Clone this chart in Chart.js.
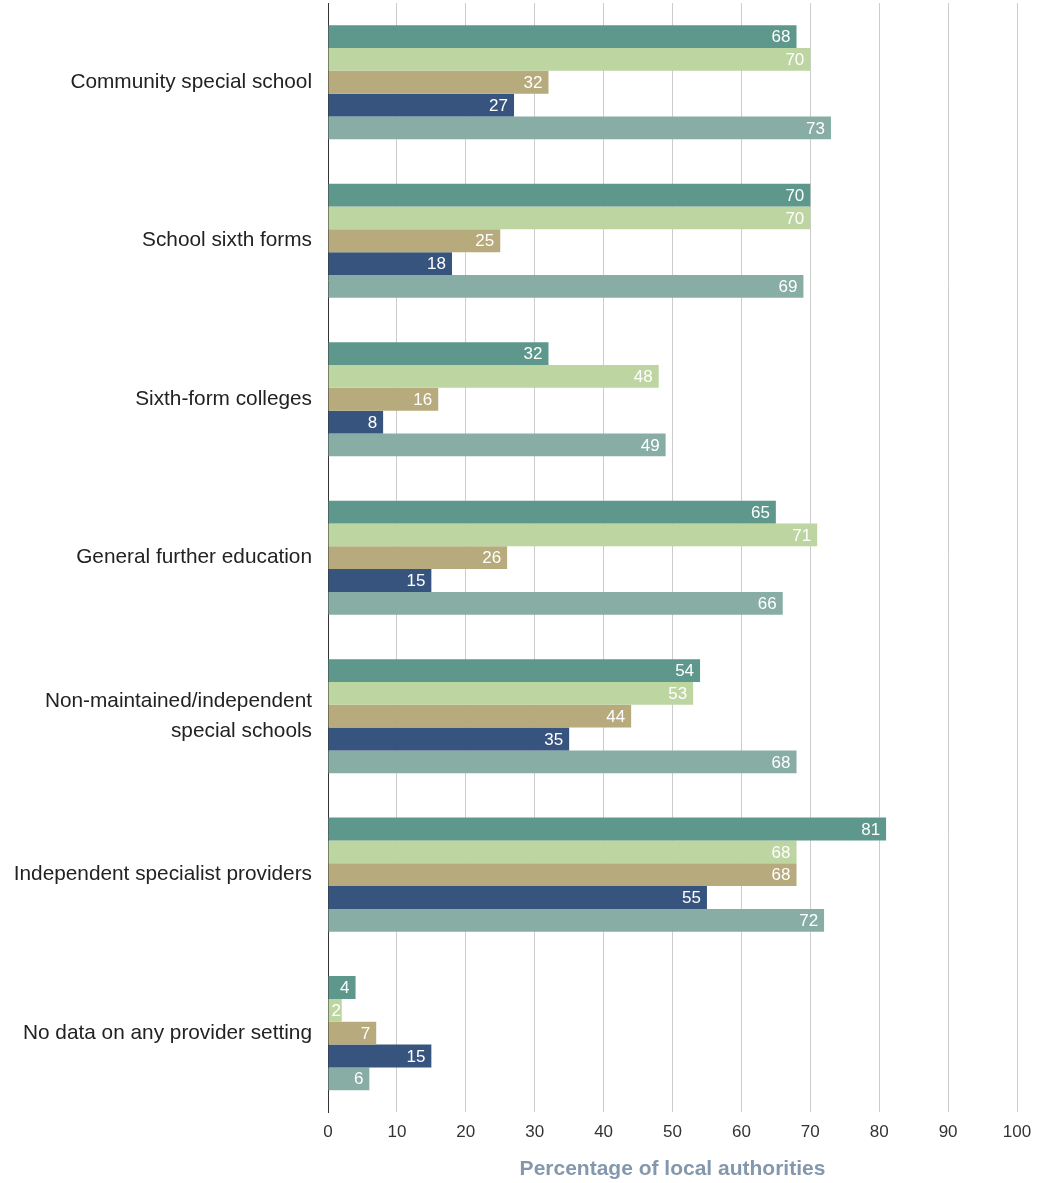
<!DOCTYPE html>
<html>
<head>
<meta charset="utf-8">
<script src="https://cdn.jsdelivr.net/npm/chart.js@4/dist/chart.umd.min.js"></script>
<style>
  body { margin: 0; background: #fff; }
</style>
</head>
<body>
<canvas id="chart" width="1048" height="1183"></canvas>
<script>
const categories = [
  "Community special school",
  "School sixth forms",
  "Sixth-form colleges",
  "General further education",
  ["Non-maintained/independent", "special schools"],
  "Independent specialist providers",
  "No data on any provider setting"
];

const series1 = [68, 70, 32, 65, 54, 81, 4];
const series2 = [70, 70, 48, 71, 53, 68, 2];
const series3 = [32, 25, 16, 26, 44, 68, 7];
const series4 = [27, 18, 8, 15, 35, 55, 15];
const series5 = [73, 69, 49, 66, 68, 72, 6];

const xTicks = [0, 10, 20, 30, 40, 50, 60, 70, 80, 90, 100];

const colors = ['#5e978b', '#bdd5a0', '#b7aa7c', '#37547e', '#87ada4'];

const FONT = "'Liberation Sans', Arial, sans-serif";

// white value labels drawn just inside the end of each bar
const barValues = {
  id: 'barValues',
  afterDatasetsDraw(chart) {
    const ctx = chart.ctx;
    ctx.save();
    ctx.font = '17px ' + FONT;
    ctx.fillStyle = '#ffffff';
    ctx.textBaseline = 'middle';
    chart.data.datasets.forEach((ds, i) => {
      chart.getDatasetMeta(i).data.forEach((bar, j) => {
        const txt = String(ds.data[j]);
        const w = ctx.measureText(txt).width;
        // keep short labels from spilling left of the axis
        const right = Math.max(bar.x - 6, bar.base + 3 + w);
        ctx.textAlign = 'right';
        ctx.fillText(txt, right, bar.y + 1);
      });
    });
    ctx.restore();
  }
};

const data = {
  labels: categories,
  datasets: [series1, series2, series3, series4, series5].map((vals, i) => ({
    data: vals,
    backgroundColor: colors[i],
    borderWidth: 0,
    categoryPercentage: 0.72,
    barPercentage: 1
  }))
};

const config = {
  type: 'bar',
  data: data,
  options: {
    indexAxis: 'y',
    responsive: false,
    animation: false,
    layout: {
      padding: { top: 3, right: 31, bottom: 1, left: 0 }
    },
    scales: {
      x: {
        min: 0,
        max: 100,
        afterBuildTicks: (scale) => {
          scale.ticks = xTicks.map(v => ({ value: v }));
        },
        grid: {
          color: '#cccccc',
          lineWidth: 1,
          drawTicks: false
        },
        border: { display: false },
        ticks: {
          padding: 10,
          color: '#333333',
          font: { family: FONT, size: 17 }
        },
        title: {
          display: true,
          text: 'Percentage of local authorities',
          color: '#8397ad',
          font: { family: FONT, size: 21, weight: 'bold' },
          padding: { top: 4, bottom: 0 }
        }
      },
      y: {
        afterFit: (scale) => {
          scale.width = 328;
          scale.paddingTop = 0;
          scale.paddingBottom = 0;
        },
        grid: { display: false, drawTicks: false },
        border: { display: true, color: '#333333', width: 1 },
        ticks: {
          padding: 16,
          color: '#222222',
          font: { family: FONT, size: 20.8, lineHeight: 1.45 }
        }
      }
    },
    plugins: {
      legend: { display: false },
      tooltip: { enabled: false }
    }
  },
  plugins: [barValues]
};

new Chart(document.getElementById('chart'), config);
</script>
</body>
</html>
